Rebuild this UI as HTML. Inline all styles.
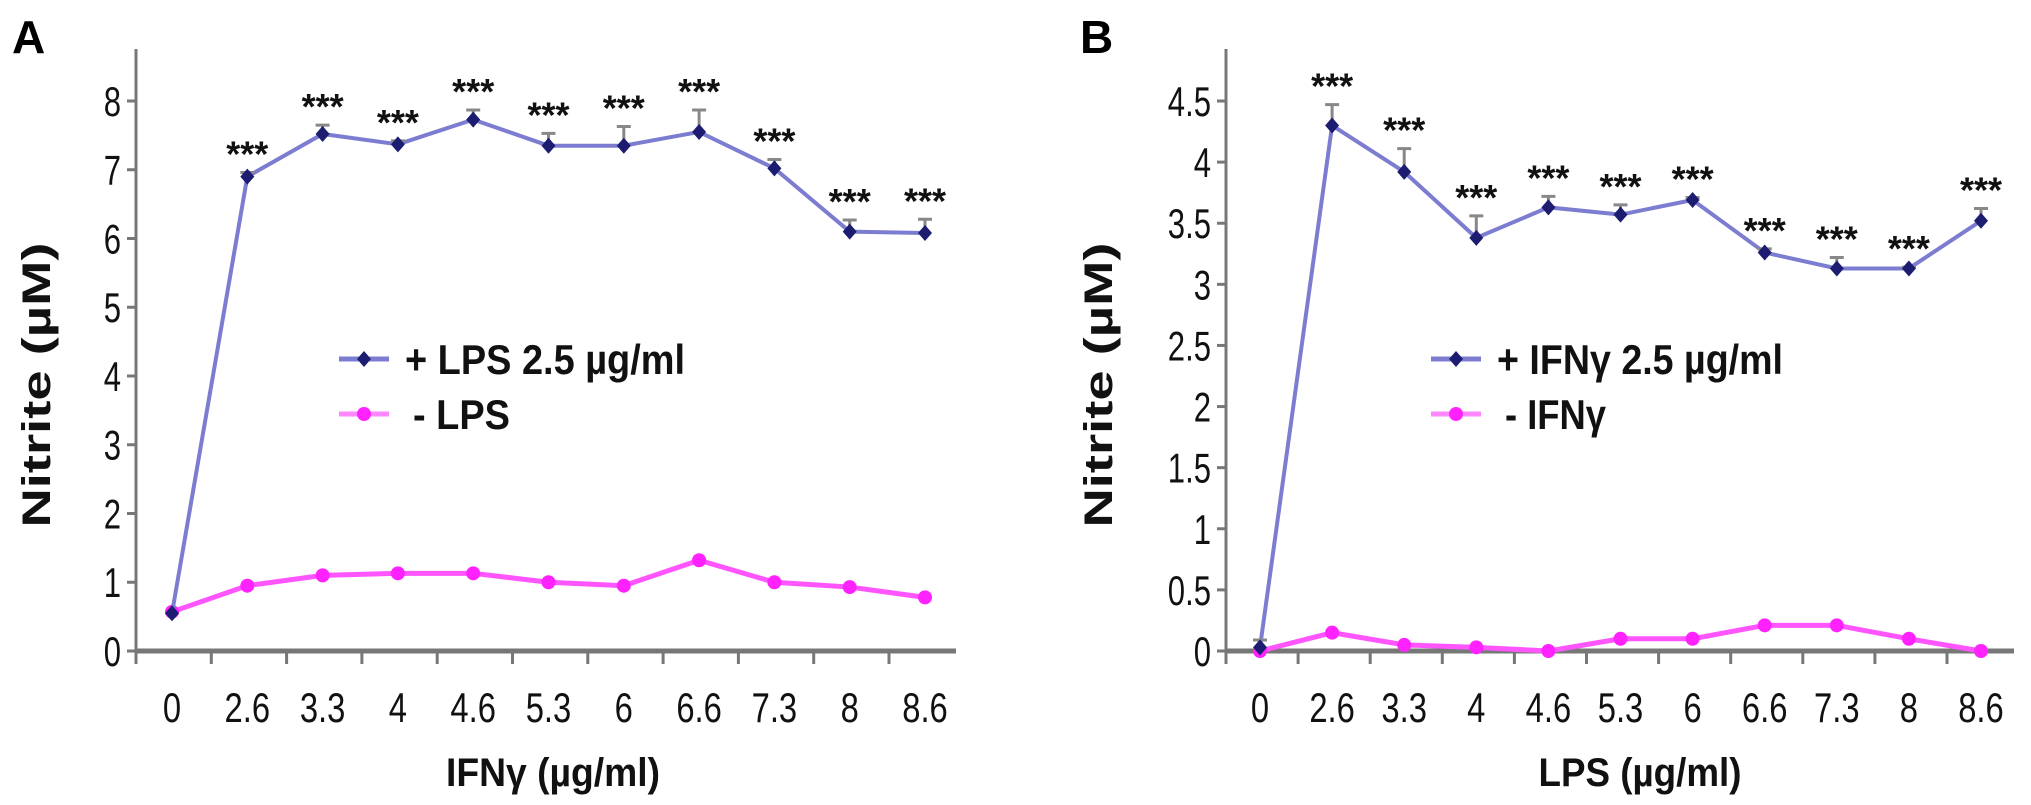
<!DOCTYPE html>
<html><head><meta charset="utf-8"><style>
html,body{margin:0;padding:0;background:#fff;}
svg{display:block;font-family:"Liberation Sans",Arial,sans-serif;}
</style></head><body>
<svg id="chart" width="2031" height="805" viewBox="0 0 2031 805">
<text x="12" y="53" font-size="46" font-weight="bold">A</text>
<text x="1080" y="53" font-size="46" font-weight="bold">B</text>
</svg>
<script>
const categories = ["0","2.6","3.3","4","4.6","5.3","6","6.6","7.3","8","8.6"];
const aPlus = [0.55,6.9,7.52,7.37,7.73,7.35,7.35,7.55,7.02,6.1,6.08];
const aPlusErr = [0,0.06,0.13,0.05,0.14,0.18,0.28,0.32,0.13,0.17,0.2];
const aMinus = [0.57,0.95,1.1,1.13,1.13,1.0,0.95,1.32,1.0,0.93,0.78];
const aTicks = [0,1,2,3,4,5,6,7,8];
const bPlus = [0.03,4.3,3.92,3.38,3.63,3.57,3.69,3.26,3.13,3.13,3.52];
const bPlusErr = [0.06,0.17,0.19,0.18,0.09,0.08,0.02,0.03,0.09,0.01,0.1];
const bMinus = [0,0.15,0.05,0.03,0,0.1,0.1,0.21,0.21,0.1,0];
const bTicks = [0,0.5,1,1.5,2,2.5,3,3.5,4,4.5];
const aStars = [false,true,true,true,true,true,true,true,true,true,true];
const bStars = [false,true,true,true,true,true,true,true,true,true,true];

const svg = document.getElementById('chart');
const NS = 'http://www.w3.org/2000/svg';
function mk(tag, attrs, parent){
  const e = document.createElementNS(NS, tag);
  for (const k in attrs) e.setAttribute(k, attrs[k]);
  (parent||svg).appendChild(e);
  return e;
}

function panel(cfg){
  const g = mk('g', {});
  
  
  const ymax = cfg.ticks[cfg.ticks.length-1];
  const y = v => cfg.y0 - (v/ymax)*(cfg.y0-cfg.yTop);
  const x = i => cfg.x0 + i*cfg.dx;
  const ya = mk('line', {x1:cfg.ax, y1:cfg.axTop, x2:cfg.ax, y2:cfg.y0, stroke:'#777', 'stroke-width':3}, g);
  
  
  const xa = mk('line', {x1:cfg.ax, y1:cfg.y0, x2:cfg.axRight, y2:cfg.y0, stroke:'#777', 'stroke-width':5}, g);
  
  
  cfg.ticks.forEach(t => {
    mk('line', {x1:cfg.ax-9, y1:y(t), x2:cfg.ax, y2:y(t), stroke:'#777', 'stroke-width':3}, g);
    const tl = mk('text', {x:cfg.ax-15, y:y(t)+15, 'font-size':42, 'text-anchor':'end', fill:'#111', transform:`translate(${cfg.ax-15},0) scale(0.74,1) translate(${-(cfg.ax-15)},0)`}, g);
    tl.textContent = String(t);
    
    
  });
  for (let i=0;i<=categories.length;i++){
    const tx = cfg.ax + i*cfg.dx;
    if (tx<=cfg.axRight) mk('line', {x1:tx, y1:cfg.y0, x2:tx, y2:cfg.y0+13, stroke:'#777', 'stroke-width':3}, g);
  }
  categories.forEach((c,i) => {
    const cx = x(i);
    const tl = mk('text', {x:cx, y:722, 'font-size':42, 'text-anchor':'middle', fill:'#111', transform:`translate(${cx},0) scale(0.78,1) translate(${-cx},0)`}, g);
    tl.textContent = c;
    
    
  });
  const xt = mk('text', {x:cfg.xTitleX, y:786, 'font-size':40, 'font-weight':'bold', 'text-anchor':'middle', fill:'#111', textLength:cfg.xTitleLen, lengthAdjust:'spacingAndGlyphs'}, g);
  xt.textContent = cfg.xTitle;
  
  
  const yt = mk('text', {x:0, y:0, 'font-size':40, 'font-weight':'bold', 'text-anchor':'middle', fill:'#111', textLength:285, lengthAdjust:'spacingAndGlyphs', transform:`translate(${cfg.yTitleX},385) rotate(-90)`}, g);
  yt.textContent = 'Nitrite (µM)';
  
  
  const pm = mk('polyline', {points: cfg.minus.map((v,i)=>x(i)+','+y(v)).join(' '), fill:'none', stroke:'#ff55ff', 'stroke-width':5}, g);
  
  
  cfg.minus.forEach((v,i) => {
    const c = mk('circle', {cx:x(i), cy:y(v), r:7, fill:'#ff22ff'}, g);
    
    
  });
  const pp = mk('polyline', {points: cfg.plus.map((v,i)=>x(i)+','+y(v)).join(' '), fill:'none', stroke:'#7c7cd0', 'stroke-width':4}, g);
  
  
  cfg.plus.forEach((v,i) => {
    const top = y(v + cfg.err[i]);
    if (cfg.err[i] > 0) {
      const e = mk('path', {d:`M${x(i)},${y(v)}V${top}M${x(i)-7},${top}H${x(i)+7}`, stroke:'#888', 'stroke-width':3, fill:'none'}, g);
      
      
    }
    const d = mk('path', {d:`M${x(i)},${y(v)-8}L${x(i)+7},${y(v)}L${x(i)},${y(v)+8}L${x(i)-7},${y(v)}Z`, fill:'#1c1c70'}, g);
    
    
    if (cfg.stars[i]) {
      const s = mk('text', {x:x(i), y:top-6, 'font-size':36, 'font-weight':'bold', 'text-anchor':'middle', fill:'#111'}, g);
      s.textContent = '***';
      
      
    }
  });
  const lg = mk('g', {}, g);
  
  
  mk('line', {x1:cfg.legX, y1:359, x2:cfg.legX+50, y2:359, stroke:'#7c7cd0', 'stroke-width':5}, lg);
  mk('path', {d:`M${cfg.legX+25},351L${cfg.legX+32},359L${cfg.legX+25},367L${cfg.legX+18},359Z`, fill:'#1c1c70'}, lg);
  const l1 = mk('text', {x:cfg.legX+66, y:374, 'font-size':42, 'font-weight':'bold', fill:'#111', textLength:cfg.leg1Len, lengthAdjust:'spacingAndGlyphs'}, lg);
  l1.textContent = cfg.leg1;
  
  
  mk('line', {x1:cfg.legX, y1:414, x2:cfg.legX+50, y2:414, stroke:'#ff88ff', 'stroke-width':5}, lg);
  mk('circle', {cx:cfg.legX+25, cy:414, r:7, fill:'#ff22ff'}, lg);
  const l2 = mk('text', {x:cfg.legX+74, y:429, 'font-size':42, 'font-weight':'bold', fill:'#111', textLength:cfg.leg2Len, lengthAdjust:'spacingAndGlyphs'}, lg);
  l2.textContent = cfg.leg2;
  
  
}

panel({name:'panel-a', ticks:aTicks, plus:aPlus, err:aPlusErr, minus:aMinus, stars:aStars,
  ax:136, axTop:49, axRight:956, y0:651, yTop:101, x0:172, dx:75.3,
  xTitle:'IFNγ (µg/ml)', xTitleX:553, xTitleLen:214, yTitleX:50, legX:339,
  leg1:'+ LPS 2.5 µg/ml', leg1Len:280, leg2:'- LPS', leg2Len:97});
panel({name:'panel-b', ticks:bTicks, plus:bPlus, err:bPlusErr, minus:bMinus, stars:bStars,
  ax:1226, axTop:49, axRight:2014, y0:651, yTop:101, x0:1260, dx:72.1,
  xTitle:'LPS (µg/ml)', xTitleX:1640, xTitleLen:203, yTitleX:1112, legX:1431,
  leg1:'+ IFNγ 2.5 µg/ml', leg1Len:286, leg2:'- IFNγ', leg2Len:101});
</script>
</body></html>
